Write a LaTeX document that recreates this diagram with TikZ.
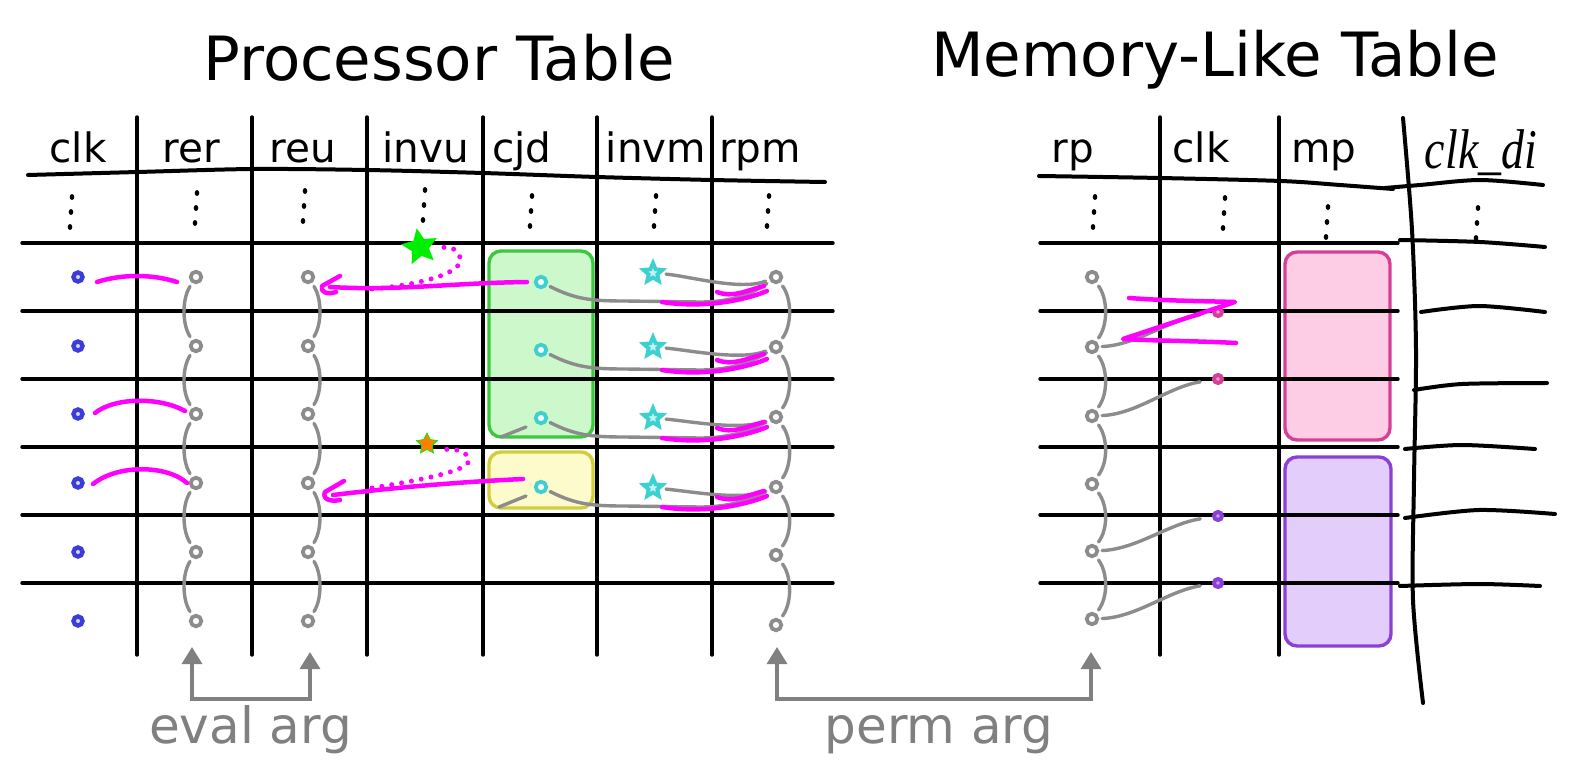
\documentclass[tikz,border=0pt]{standalone}
\usepackage{fontspec}
\setmainfont{DejaVu Sans}
\newfontfamily\handfont{Liberation Serif}
\usetikzlibrary{shapes.geometric,arrows.meta}
\definecolor{cGray}{HTML}{8C8C8C}
\definecolor{cArrow}{HTML}{808080}
\definecolor{cBlue}{HTML}{3C3CD8}
\definecolor{cTeal}{HTML}{3CD0D0}
\definecolor{cMag}{HTML}{FF00FF}
\definecolor{cGreenF}{HTML}{CCF8CC}
\definecolor{cGreenD}{HTML}{3CC83C}
\definecolor{cYelF}{HTML}{FDFBCC}
\definecolor{cYelD}{HTML}{D2CD3C}
\definecolor{cPinkF}{HTML}{FDCCE5}
\definecolor{cPinkD}{HTML}{D63F98}
\definecolor{cPurF}{HTML}{E2CDFB}
\definecolor{cPurD}{HTML}{8A3FD6}
\definecolor{cStarG}{HTML}{00EE00}
\definecolor{cStarO}{HTML}{FF7F00}
\begin{document}
\begin{tikzpicture}[x=1pt,y=-1pt,
  tline/.style={line width=3.4pt, line cap=round, draw=black},
  hline/.style={line width=4pt, line cap=round, line join=round, draw=black},
  title/.style={anchor=base, font=\fontsize{61}{64}\selectfont, inner sep=0pt},
  hdr/.style={anchor=base, font=\fontsize{40.5}{44}\selectfont, inner sep=0pt},
  lbl/.style={anchor=base, font=\fontsize{50}{54}\selectfont, text=cArrow, inner sep=0pt},
  gring/.style={circle, draw=cGray, line width=3.8pt, fill=white, minimum size=10.5pt, inner sep=0pt},
  bring/.style={circle, draw=cBlue, line width=4.4pt, fill=cBlue!20, minimum size=9pt, inner sep=0pt},
  tring/.style={circle, draw=cTeal, line width=3.8pt, fill=white, minimum size=10.5pt, inner sep=0pt},
  cdot/.style={circle, draw=#1, line width=4pt, fill=#1!50, minimum size=8pt, inner sep=0pt},
  cstar/.style={star, star points=5, star point ratio=2.2, draw=cTeal, line width=3.8pt, fill=cTeal!30, minimum size=20pt, inner sep=0pt},
  gcurve/.style={draw=cGray, line width=3.4pt, line cap=round},
  mstroke/.style={draw=cMag, line width=4.5pt, line cap=round, line join=round},
  mdotted/.style={draw=cMag, line width=5pt, line cap=round, dash pattern=on 0pt off 10pt},
  garrow/.style={draw=cArrow, line width=3.2pt, {Triangle[length=17pt,width=20pt]}-{Triangle[length=17pt,width=20pt]}},
  boxnode/.style={rounded corners=12pt, line width=3.4pt, inner sep=0pt},
]
\useasboundingbox (0,0) rectangle (1572,773);
\fill[white] (0,0) rectangle (1572,773);

% titles and headers
\node[title] (ptitle) at (439,81) {Processor Table};
\node[title] (mtitle) at (1215,77) {Memory-Like Table};
\node[hdr] (hclk) at (78,163) {clk};
\node[hdr] (hrer) at (191,163) {rer};
\node[hdr] (hreu) at (303,163) {reu};
\node[hdr] (hinvu) at (426,163) {invu};
\node[hdr] (hcjd) at (522,163) {cjd};
\node[hdr] (hinvm) at (656,163) {invm};
\node[hdr] (hrpm) at (760,163) {rpm};
\node[hdr] (hrp) at (1073,163) {rp};
\node[hdr] (hmclk) at (1201,163) {clk};
\node[hdr] (hmp) at (1324,163) {mp};
\node[anchor=base, font=\handfont\itshape\fontsize{56}{60}\selectfont, inner sep=0pt] (hcd) at (1481,168) {\scalebox{0.82}[1]{clk\_di}};

% coloured boxes
\node[boxnode, draw=cGreenD, fill=cGreenF, minimum width=104pt, minimum height=186pt] (gbox) at (541,344) {};
\node[boxnode, draw=cYelD, fill=cYelF, minimum width=104pt, minimum height=56pt] (ybox) at (541,480) {};
\node[boxnode, draw=cPinkD, fill=cPinkF, minimum width=105pt, minimum height=188pt] (pbox) at (1337.5,346) {};
\node[boxnode, draw=cPurD, fill=cPurF, minimum width=106pt, minimum height=189pt] (ubox) at (1338,551.5) {};

% processor table lines
\foreach \y in {243,311,379,447,515,583} \draw[tline] (22,\y) -- (833,\y);
\foreach \x in {137,252,367,483,597,712} \draw[tline] (\x,117) -- (\x,655);
\draw[hline] plot[smooth] coordinates {(28,175) (138,172) (253,169) (367,170) (483,173) (597,177) (712,180) (825,182)};

% memory table lines
\foreach \y in {243,311,379,447,515,583} \draw[tline] (1040,\y) -- (1398,\y);
\foreach \x in {1160,1279} \draw[tline] (\x,117) -- (\x,655);
\draw[hline] plot[smooth] coordinates {(1039,176) (1160,178) (1281,181) (1340,185) (1393,189)};
\draw[hline] plot[smooth] coordinates {(1385,188) (1420,185) (1480,180) (1543,185)};
\draw[hline] plot[smooth] coordinates {(1403,118) (1412,230) (1416,350) (1414,480) (1413,600) (1423,703)};
\draw[hline] plot[smooth] coordinates {(1400,240) (1480,242) (1545,247)};
\draw[hline] plot[smooth] coordinates {(1421,312) (1479,306) (1545,312)};
\draw[hline] plot[smooth] coordinates {(1414,390) (1462,384) (1547,383)};
\draw[hline] plot[smooth] coordinates {(1405,449) (1462,445) (1535,449)};
\draw[hline] plot[smooth] coordinates {(1405,518) (1479,510) (1555,514)};
\draw[hline] plot[smooth] coordinates {(1400,586) (1479,584) (1540,586)};

% vertical ellipsis dots
\foreach \x/\y in {71/197, 196/193, 304/191, 424/190, 531/196, 655/196, 768/196, 1094/197, 1224/198, 1327/207, 1477/208} {
  \fill (\x+1,\y) ellipse (2.3 and 3);
  \fill (\x,\y+15) ellipse (2.3 and 3);
  \fill (\x-1,\y+30) ellipse (2.3 and 3);
}

% rings
\foreach \k/\y in {1/277,2/346,3/414,4/483,5/552,6/621} {
  \node[bring] (clk\k) at (78,\y) {};
  \node[gring] (rer\k) at (196,\y) {};
  \node[gring] (reu\k) at (308,\y) {};
}
\foreach \k/\y in {1/277,2/347,3/417,4/487,5/555,6/625} \node[gring] (rpm\k) at (776,\y) {};
\foreach \k/\y in {1/277,2/347,3/416,4/484,5/551,6/619} \node[gring] (rp\k) at (1092,\y) {};
\foreach \k/\y in {1/282,2/350,3/418,4/487} \node[tring] (cjd\k) at (541,\y) {};
\foreach \k/\y in {1/273,2/347,3/418,4/488} \node[cstar] (invm\k) at (653,\y) {};
\node[cdot=cPinkD] (mc1) at (1218,312) {};
\node[cdot=cPinkD] (mc2) at (1218,379) {};
\node[cdot=cPurD] (mc3) at (1218,516) {};
\node[cdot=cPurD] (mc4) at (1218,583) {};

% gray chains
\foreach \a/\b in {1/2,2/3,3/4,4/5,5/6} {
  \draw[gcurve, shorten <=4pt, shorten >=4pt] (rer\a) .. controls +(-14,22) and +(-14,-22) .. (rer\b);
  \draw[gcurve, shorten <=4pt, shorten >=4pt] (reu\a) .. controls +(14,22) and +(14,-22) .. (reu\b);
  \draw[gcurve, shorten <=4pt, shorten >=4pt] (rpm\a) .. controls +(16,22) and +(16,-22) .. (rpm\b);
  \draw[gcurve, shorten <=4pt, shorten >=4pt] (rp\a) .. controls +(16,22) and +(16,-22) .. (rp\b);
}
\draw[gcurve, shorten <=3pt, shorten >=12pt] (rp2) .. controls +(45,-2) and +(-50,8) .. (mc1);
\draw[gcurve, shorten <=3pt, shorten >=12pt] (rp3) .. controls +(45,-2) and +(-50,8) .. (mc2);
\draw[gcurve, shorten <=3pt, shorten >=12pt] (rp5) .. controls +(45,-2) and +(-50,8) .. (mc3);
\draw[gcurve, shorten <=3pt, shorten >=12pt] (rp6) .. controls +(45,-2) and +(-50,8) .. (mc4);

\foreach \k/\Y in {1/282,2/350,3/418,4/487} {
  \draw[gcurve, shorten <=3pt, shorten >=4pt] (cjd\k) .. controls (575,\Y+17) and (590,\Y+19) .. (625,\Y+19) -- (700,\Y+20) .. controls (735,\Y+20) and (755,\Y+10) .. (rpm\k);
  \draw[gcurve, shorten <=5pt, shorten >=4pt] (invm\k) .. controls +(35,3) and +(-35,14) .. (rpm\k);
}
\draw[gcurve] ([shift={(-15,9)}]cjd3.center) -- ([shift={(-40,19)}]cjd3.center);
\draw[gcurve] ([shift={(-15,9)}]cjd4.center) -- ([shift={(-42,20)}]cjd4.center);

% magenta annotations
\draw[mstroke] ([shift={(19,5)}]clk1.center) .. controls +(25,-8) and +(-25,-8) .. ([shift={(-19,5)}]rer1.center);
\draw[mstroke] ([shift={(17,-1)}]clk3.center) .. controls +(20,-16) and +(-25,-14) .. ([shift={(-11,-3)}]rer3.center);
\draw[mstroke] ([shift={(15,1)}]clk4.center) .. controls +(25,-20) and +(-20,-18) .. ([shift={(-9,0)}]rer4.center);

\draw[mstroke] ([shift={(-14,0)}]cjd1.center) .. controls (450,283) and (400,291) .. (330,287);
\draw[mstroke] (340,276) -- (322,286) .. controls (320,292) and (327,295) .. (336,292);
\draw[mstroke] ([shift={(-18,-8)}]cjd4.center) .. controls (460,482) and (400,487) .. (333,495);
\draw[mstroke] (344,481) -- (325,492) .. controls (322,499) and (330,502) .. (340,500);

\draw[mdotted] (372,289) .. controls (420,285) and (470,272) .. (459,255) .. controls (455,247) and (447,246) .. (440,248);
\draw[mdotted] (372,488) .. controls (420,480) and (478,470) .. (468,457) .. controls (464,450) and (452,448) .. (440,450);

\node[star, star points=5, star point ratio=2.1, fill=cStarG, minimum size=38pt, inner sep=0pt, rotate=10] (gstar) at (420,247) {};
\node[star, star points=5, star point ratio=2.0, fill=cStarO, draw=cStarG, line width=0.8pt, minimum size=22pt, inner sep=0pt] (ostar) at (427,444) {};

\foreach \k/\Y in {1/282,2/350,3/418,4/487} {
  \draw[mstroke] (717,\Y+10) .. controls (733,\Y+16) and (745,\Y+9) .. (764,\Y+4);
  \draw[mstroke] (662,\Y+20) .. controls (700,\Y+26) and (740,\Y+20) .. (767,\Y+9);
}
\draw[mstroke] (1129,298) .. controls (1170,301) and (1200,301) .. (1235,302) -- (1123,339) .. controls (1160,341) and (1200,341) .. (1236,343);

% bottom arrows and labels
\coordinate (eA) at (192,647);
\coordinate (eB) at (310,652);
\coordinate (pA) at (777,647);
\coordinate (pB) at (1091,652);
\draw[garrow] (eA) -- ++(0,52) -| (eB);
\draw[garrow] (pA) -- ++(0,52) -| (pB);
\node[lbl] (eval) at (250.5,743) {eval arg};
\node[lbl] (perm) at (939,743) {perm arg};
\end{tikzpicture}
\end{document}
